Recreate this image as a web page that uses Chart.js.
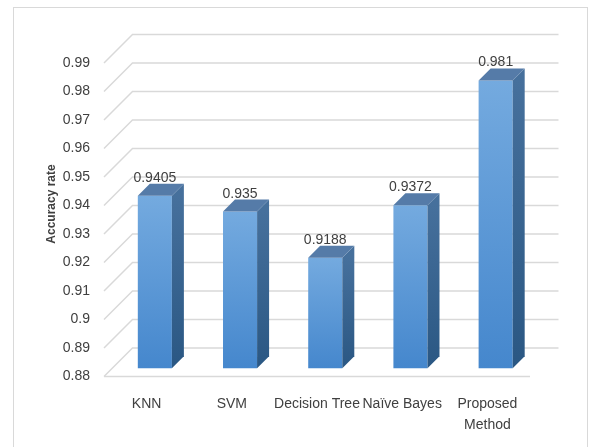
<!DOCTYPE html>
<html>
<head>
<meta charset="utf-8">
<script src="https://cdn.jsdelivr.net/npm/chart.js@4/dist/chart.umd.min.js"></script>
<style>
  body { margin: 0; background: #fff; }
  canvas { display: block; }
</style>
</head>
<body>
<canvas id="myChart" width="589" height="447"></canvas>
<script>
// accuracy of each classifier
const methods = ['KNN', 'SVM', 'Decision Tree', 'Naïve Bayes', ['Proposed', 'Method']];
const accuracy = [0.9405, 0.935, 0.9188, 0.9372, 0.981];
const yMin = 0.88;
const yMax = 0.99;
const yStep = 0.01;

const FONT = '"Liberation Sans", Arial, sans-serif';
const TEXT = '#404040';
const GRID = '#d9d9d9';
const WALL = 28.5;   // depth of the floor / side wall
const DEPTH = 12;    // depth of one bar
const SHIFT = (WALL - DEPTH) / 2;

// grid on the back wall, side wall and floor
const wallPlugin = {
  id: 'wall',
  beforeDatasetsDraw(chart) {
    const { ctx, chartArea: a, scales: { y } } = chart;
    ctx.save();
    ctx.strokeStyle = GRID;
    ctx.lineWidth = 1.5;
    y.ticks.forEach(t => {
      const py = y.getPixelForValue(t.value);
      ctx.beginPath();
      ctx.moveTo(a.left, py);
      ctx.lineTo(a.left + WALL, py - WALL);
      ctx.lineTo(a.right + WALL, py - WALL);
      ctx.stroke();
    });
    // front edge of the floor
    ctx.beginPath();
    ctx.moveTo(a.left, a.bottom);
    ctx.lineTo(a.right, a.bottom);
    ctx.stroke();
    ctx.restore();

    // bars sit half way into the floor
    ctx.save();
    ctx.translate(SHIFT, -SHIFT);
  },
  afterDatasetsDraw(chart) {
    const { ctx } = chart;
    const meta = chart.getDatasetMeta(0);
    meta.data.forEach((bar, i) => {
      const { x, y, base, width } = bar.getProps(['x', 'y', 'base', 'width'], true);
      const x0 = x - width / 2, x1 = x + width / 2;
      // side face
      const sg = ctx.createLinearGradient(0, y, 0, base);
      sg.addColorStop(0, '#46709c');
      sg.addColorStop(1, '#2a5783');
      ctx.fillStyle = sg;
      ctx.beginPath();
      ctx.moveTo(x1, base);
      ctx.lineTo(x1 + DEPTH, base - DEPTH);
      ctx.lineTo(x1 + DEPTH, y - DEPTH);
      ctx.lineTo(x1, y);
      ctx.closePath();
      ctx.fill();
      // top face
      ctx.fillStyle = '#557ba8';
      ctx.beginPath();
      ctx.moveTo(x0, y);
      ctx.lineTo(x0 + DEPTH, y - DEPTH);
      ctx.lineTo(x1 + DEPTH, y - DEPTH);
      ctx.lineTo(x1, y);
      ctx.closePath();
      ctx.fill();
      // value label
      ctx.fillStyle = TEXT;
      ctx.font = '14px ' + FONT;
      ctx.textAlign = 'center';
      ctx.textBaseline = 'alphabetic';
      ctx.fillText(String(accuracy[i]), x, y - DEPTH - 2);
    });
    ctx.restore();

    // outer frame and axis title
    ctx.save();
    ctx.strokeStyle = GRID;
    ctx.lineWidth = 1;
    ctx.strokeRect(13.5, 7.5, 574, 460);
    ctx.translate(52, 204);
    ctx.rotate(-Math.PI / 2);
    ctx.fillStyle = TEXT;
    ctx.font = 'bold 12px ' + FONT;
    ctx.textAlign = 'center';
    ctx.textBaseline = 'middle';
    ctx.fillText('Accuracy rate', 0, 0);
    ctx.restore();
  }
};

function frontFill(context) {
  const chart = context.chart;
  if (!chart.chartArea) return '#5b9bd5';
  const y = chart.scales.y;
  const top = y.getPixelForValue(context.raw);
  const g = chart.ctx.createLinearGradient(0, top, 0, y.getPixelForValue(yMin));
  g.addColorStop(0, '#74aadf');
  g.addColorStop(1, '#4587cd');
  return g;
}

const myChart = new Chart(document.getElementById('myChart'), {
  type: 'bar',
  data: {
    labels: methods,
    datasets: [{
      data: accuracy,
      base: yMin,
      backgroundColor: frontFill,
      borderWidth: 0,
      barPercentage: 0.4,
      categoryPercentage: 1,
      clip: false
    }]
  },
  options: {
    responsive: false,
    animation: false,
    layout: { padding: { top: 63, right: 59, left: 0, bottom: 0 } },
    plugins: {
      legend: { display: false },
      tooltip: { enabled: false }
    },
    scales: {
      x: {
        grid: { display: false, drawTicks: false },
        border: { display: false },
        ticks: {
          color: TEXT,
          padding: 17,
          maxRotation: 0,
          autoSkip: false,
          font: { family: FONT, size: 14, lineHeight: 1.5 }
        },
        afterFit(scale) { scale.height = 70.5; }
      },
      y: {
        min: yMin,
        max: yMax,
        beginAtZero: false,
        grid: { display: false, drawTicks: false },
        border: { display: false },
        ticks: {
          stepSize: yStep,
          padding: 14,
          color: TEXT,
          font: { family: FONT, size: 14 },
          callback: v => String(Math.round(v * 100) / 100)
        },
        afterFit(scale) { scale.width = 104; }
      }
    }
  },
  plugins: [wallPlugin]
});
</script>
</body>
</html>
